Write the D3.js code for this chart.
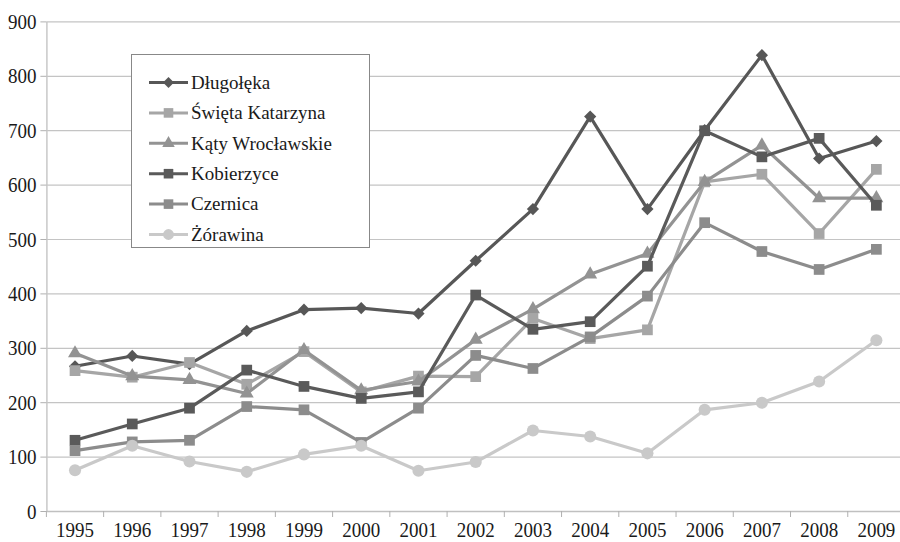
<!DOCTYPE html>
<html>
<head>
<meta charset="utf-8">
<script src="https://cdn.jsdelivr.net/npm/d3@7"></script>
<style>
  body { margin: 0; background: #fff; }
  svg, svg text { font-family: "Liberation Serif", "Times New Roman", "DejaVu Serif", serif !important; }
</style>
</head>
<body>
<div id="chart"></div>
<script>
(function () {

// data
const years = ["1995","1996","1997","1998","1999","2000","2001","2002","2003","2004","2005","2006","2007","2008","2009"];
const dlugoleka  = [266, 285, 270, 331, 370, 373, 363, 460, 555, 725, 555, 700, 838, 648, 680];
const swKatarzyna = [258, 246, 273, 233, 293, 219, 248, 247, 354, 317, 333, 605, 619, 510, 628];
const katy       = [290, 248, 241, 216, 296, 222, 238, 315, 371, 435, 473, 605, 672, 575, 575];
const kobierzyce = [130, 160, 189, 259, 229, 207, 219, 397, 334, 348, 450, 699, 651, 685, 562];
const czernica   = [111, 127, 130, 192, 186, 126, 189, 286, 262, 320, 395, 530, 477, 444, 481];
const zorawina   = [ 75, 120,  91,  72, 104, 120,  74,  90, 148, 137, 106, 186, 199, 238, 314];
const yTicks = [0, 100, 200, 300, 400, 500, 600, 700, 800, 900];

const series = [
  {name: "Długołęka",          values: dlugoleka,   color: "#575757", symbol: d3.symbolDiamond2, size: 95},
  {name: "Święta Katarzyna",    values: swKatarzyna, color: "#a6a6a6", symbol: d3.symbolSquare,   size: 115},
  {name: "Kąty Wrocławskie",    values: katy,        color: "#939393", symbol: d3.symbolTriangle, size: 85},
  {name: "Kobierzyce",          values: kobierzyce,  color: "#5a5a5a", symbol: d3.symbolSquare,   size: 115},
  {name: "Czernica",            values: czernica,    color: "#8c8c8c", symbol: d3.symbolSquare,   size: 115},
  {name: "Żórawina",            values: zorawina,    color: "#c9c9c9", symbol: d3.symbolCircle,   size: 115}
];

const FONT = "Liberation Serif, Times New Roman, serif";
const W = 900, H = 542;
const left = 46.4, right = 905, top = 21.4, bottom = 511;

const svg = d3.select("#chart").append("svg")
    .attr("width", W)
    .attr("height", H)
    .attr("font-family", FONT);

const x = d3.scaleBand().domain(years).range([left, right]);
const y = d3.scaleLinear().domain([0, 900]).range([bottom, top]);
const cx = d => x(d) + x.bandwidth() / 2;

// gridlines
svg.append("g")
    .attr("transform", "translate(" + left + ",0)")
    .call(d3.axisLeft(y).tickValues(yTicks.slice(1)).tickSize(-(right - left)).tickFormat(""))
    .call(g => g.select(".domain").remove())
    .selectAll("line")
    .attr("stroke", "#c4c4c4")
    .attr("stroke-width", 1.2);

// y axis
const yAxis = svg.append("g")
    .attr("transform", "translate(" + left + ",0)")
    .call(d3.axisLeft(y).tickValues(yTicks).tickSize(6).tickPadding(4).tickSizeOuter(0))
    .attr("font-family", FONT);
yAxis.select(".domain").attr("stroke", "#c8c8c8").attr("stroke-width", 1.5);
yAxis.selectAll(".tick line").attr("stroke", "#b0b0b0");
yAxis.selectAll(".tick text")
    .attr("font-size", 19)
    .attr("fill", "#1a1a1a")
    .attr("transform", "scale(1,1.15)");

// x axis
const xAxis = svg.append("g")
    .attr("transform", "translate(0," + bottom + ")")
    .call(d3.axisBottom(x).tickSize(0).tickSizeOuter(0))
    .attr("font-family", FONT);
xAxis.select(".domain").attr("stroke", "#c0c0c0").attr("stroke-width", 1.5);
xAxis.selectAll(".tick text")
    .attr("font-size", 19)
    .attr("fill", "#1a1a1a")
    .attr("y", 0).attr("dy", 0)
    .attr("transform", "translate(0,26) scale(1,1.12)");

// tick marks between categories
svg.append("g").selectAll("line")
  .data(years.concat(["end"]))
  .join("line")
    .attr("x1", d => d === "end" ? right : x(d))
    .attr("x2", d => d === "end" ? right : x(d))
    .attr("y1", bottom)
    .attr("y2", bottom + 6)
    .attr("stroke", "#b0b0b0");

// lines and markers
const line = d3.line()
    .x((d, i) => cx(years[i]))
    .y(d => y(d));

series.forEach(s => {
  const g = svg.append("g");
  g.append("path")
    .datum(s.values)
    .attr("fill", "none")
    .attr("stroke", s.color)
    .attr("stroke-width", 3.2)
    .attr("stroke-linejoin", "round")
    .attr("d", line);
  g.selectAll("path.mk")
    .data(s.values)
    .join("path")
    .attr("class", "mk")
    .attr("transform", (d, i) => "translate(" + cx(years[i]) + "," + y(d) + ")")
    .attr("d", d3.symbol(s.symbol, s.size))
    .attr("fill", s.color);
});

// legend
const legend = svg.append("g");
legend.append("rect")
    .attr("x", 131.5).attr("y", 54.5)
    .attr("width", 238).attr("height", 193)
    .attr("fill", "#fff")
    .attr("stroke", "#888")
    .attr("stroke-width", 1);

const item = legend.selectAll("g.item")
  .data(series)
  .join("g")
    .attr("class", "item")
    .attr("transform", (d, i) => "translate(0," + (82.5 + i * 30.4) + ")");
item.append("line")
    .attr("x1", 149).attr("x2", 188)
    .attr("stroke", d => d.color)
    .attr("stroke-width", 3);
item.append("path")
    .attr("transform", "translate(168.5,0)")
    .attr("d", d => d3.symbol(d.symbol, d.size * 0.8)())
    .attr("fill", d => d.color);
item.append("text")
    .attr("x", 191)
    .attr("dy", "0.33em")
    .attr("font-size", 19)
    .attr("fill", "#1a1a1a")
    .text(d => d.name);

})();
</script>
</body>
</html>
